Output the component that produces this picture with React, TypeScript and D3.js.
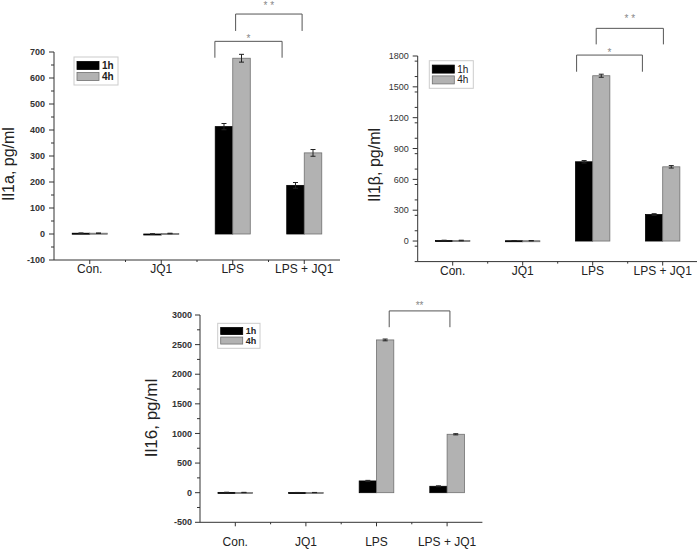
import React from 'react';
import * as d3 from 'd3';

const categories = ['Con.', 'JQ1', 'LPS', 'LPS + JQ1'];
const seriesNames = ['1h', '4h'];

const il1aH1 = [3, 0, 413, 187];
const il1aH4 = [3, 2, 676, 312];
const il1aErrH1 = [1, 1, 12, 11];
const il1aErrH4 = [1, 1, 15, 13];
const il1aTicks = [-100, 0, 100, 200, 300, 400, 500, 600, 700];

const il1bH1 = [5, 3, 771, 258];
const il1bH4 = [5, 3, 1608, 722];
const il1bErrH1 = [3, 2, 12, 8];
const il1bErrH4 = [3, 2, 15, 12];
const il1bTicks = [0, 300, 600, 900, 1200, 1500, 1800];

const il16H1 = [5, 2, 198, 108];
const il16H4 = [3, 2, 2579, 986];
const il16ErrH1 = [3, 2, 10, 8];
const il16ErrH4 = [3, 2, 15, 10];
const il16Ticks = [-500, 0, 500, 1000, 1500, 2000, 2500, 3000];

// brackets: [fromCategory, offset, toCategory, offset, lineValue, legValue, starValue, label]
const il1aBrackets: [number, number, number, number, number, number, number, string][] = [
  [2, -0.25, 3, -0.31, 741, 678, 759, '*'],
  [2, 0.04, 3, -0.03, 846, 781, 887, '* *'],
];
const il1bBrackets: [number, number, number, number, number, number, number, string][] = [
  [2, -0.23, 3, -0.29, 1809, 1647, 1858, '*'],
  [2, 0.05, 3, 0.01, 2069, 1913, 2182, '* *'],
];
const il16Brackets: [number, number, number, number, number, number, number, string][] = [
  [2, 0.18, 3, 0.04, 3069, 2794, 3198, '**'],
];

const FONT = '"Liberation Sans", Arial, sans-serif';

type PanelProps = {
  left: number; right: number; top: number; bottom: number;
  domain: [number, number]; ticks: number[]; minorStep: number;
  h1: number[]; h4: number[]; e1: number[]; e4: number[];
  brackets: [number, number, number, number, number, number, number, string][];
  yLabel: string; yLabelX: number; yLabelY: number; yLabelSize: number;
  tickBold: boolean; tickGap: number; xLabelY: number;
  legend: { x: number; y: number; w: number; h: number; sw: number; sh: number; bold: boolean; fs: number };
};

function Panel(p: PanelProps) {
  const x = d3.scaleBand<string>().domain(categories).range([p.left, p.right]).padding(0);
  const y = d3.scaleLinear().domain(p.domain).range([p.bottom, p.top]);
  const bw = x.bandwidth();
  const barW = bw * 0.245;
  const minor = d3.range(p.domain[0], p.domain[1] + 0.001, p.minorStep).filter(v => !p.ticks.includes(v));
  const series = [
    { vals: p.h1, errs: p.e1, fill: '#000', stroke: '#000' },
    { vals: p.h4, errs: p.e4, fill: '#b2b2b2', stroke: '#707070' },
  ];
  const cx = (i: number) => (x(categories[i]) as number) + bw / 2;
  return (
    <g fontFamily={FONT}>
      {series.map((s, si) => (
        <g key={si}>
          {s.vals.map((v, i) => {
            const x0 = cx(i) + (si === 0 ? -barW : 0);
            const y0 = y(Math.max(v, 0));
            const y1 = y(Math.min(v, 0));
            const ex = x0 + barW / 2;
            const et = y(v + s.errs[i]);
            const eb = y(v - s.errs[i]);
            return (
              <g key={i}>
                <rect x={x0} y={y0} width={barW} height={Math.max(y1 - y0, 1)} fill={s.fill} stroke={s.stroke} strokeWidth={0.8} />
                <line x1={ex} x2={ex} y1={et} y2={eb} stroke="#222" strokeWidth={1} />
                <line x1={ex - 2.5} x2={ex + 2.5} y1={et} y2={et} stroke="#222" strokeWidth={1} />
                <line x1={ex - 2.5} x2={ex + 2.5} y1={eb} y2={eb} stroke="#222" strokeWidth={1} />
              </g>
            );
          })}
        </g>
      ))}
      {/* axes */}
      <line x1={p.left} x2={p.left} y1={p.top} y2={p.bottom} stroke="#333" strokeWidth={1} />
      <line x1={p.left} x2={p.right} y1={p.bottom} y2={p.bottom} stroke="#333" strokeWidth={1} />
      {p.ticks.map(t => (
        <g key={t}>
          <line x1={p.left - 5} x2={p.left} y1={y(t)} y2={y(t)} stroke="#333" strokeWidth={1} />
          <text x={p.left - p.tickGap} y={y(t)} dy="0.35em" textAnchor="end" fontSize={9} fontWeight={p.tickBold ? 'bold' : 'normal'} fill="#333">{t}</text>
        </g>
      ))}
      {minor.map(t => (
        <line key={'m' + t} x1={p.left - 3} x2={p.left} y1={y(t)} y2={y(t)} stroke="#333" strokeWidth={1} />
      ))}
      {categories.map((c, i) => (
        <g key={c}>
          <line x1={cx(i)} x2={cx(i)} y1={p.bottom} y2={p.bottom + 4} stroke="#333" strokeWidth={1} />
          {i > 0 && <line x1={x(c) as number} x2={x(c) as number} y1={p.bottom} y2={p.bottom + 2} stroke="#333" strokeWidth={1} />}
          <text x={cx(i)} y={p.xLabelY} textAnchor="middle" fontSize={12} fill="#222">{c}</text>
        </g>
      ))}
      <text transform={`translate(${p.yLabelX},${p.yLabelY}) rotate(-90)`} textAnchor="middle" fontSize={p.yLabelSize} fill="#222">{p.yLabel}</text>
      {/* significance brackets */}
      {p.brackets.map((b, k) => {
        const xa = cx(b[0]) + b[1] * bw;
        const xb = cx(b[2]) + b[3] * bw;
        const yl = y(b[4]);
        const yg = y(b[5]);
        return (
          <g key={k}>
            <path d={`M${xa},${yg}V${yl}H${xb}V${yg}`} fill="none" stroke="#555" strokeWidth={1} />
            <text x={(xa + xb) / 2} y={y(b[6]) + 5.7} textAnchor="middle" fontSize={10} fill="#888">{b[7]}</text>
          </g>
        );
      })}
      {/* legend */}
      <rect x={p.legend.x} y={p.legend.y} width={p.legend.w} height={p.legend.h} fill="#fff" stroke="#ccc" strokeWidth={1} />
      {seriesNames.map((n, i) => {
        const rowH = (p.legend.h - 6) / 2;
        const ly = p.legend.y + 3 + i * rowH;
        return (
          <g key={n}>
            <rect x={p.legend.x + 3} y={ly + (rowH - p.legend.sh) / 2} width={p.legend.sw} height={p.legend.sh} fill={series[i].fill} stroke={series[i].stroke} strokeWidth={0.8} />
            <text x={p.legend.x + p.legend.sw + 6} y={ly + rowH / 2} dy="0.35em" fontSize={p.legend.fs} fontWeight={p.legend.bold ? 'bold' : 'normal'} fill="#222">{n}</text>
          </g>
        );
      })}
    </g>
  );
}

export default function App() {
  return (
    <svg width={697} height={549} style={{ position: 'absolute', left: 0, top: 0, background: '#fff' }}>
      <rect width={697} height={549} fill="#fff" />
      <Panel left={54} right={340} top={52} bottom={260} domain={[-100, 700]} ticks={il1aTicks} minorStep={50}
        h1={il1aH1} h4={il1aH4} e1={il1aErrH1} e4={il1aErrH4} brackets={il1aBrackets}
        yLabel="Il1a, pg/ml" yLabelX={14} yLabelY={164} yLabelSize={16} tickBold={true} tickGap={9} xLabelY={273}
        legend={{ x: 74, y: 57, w: 44, h: 28, sw: 22, sh: 8, bold: true, fs: 10 }} />
      <Panel left={417.7} right={697.7} top={56} bottom={261.6} domain={[-200, 1800]} ticks={il1bTicks} minorStep={150}
        h1={il1bH1} h4={il1bH4} e1={il1bErrH1} e4={il1bErrH4} brackets={il1bBrackets}
        yLabel="Il1β, pg/ml" yLabelX={380} yLabelY={165} yLabelSize={16} tickBold={false} tickGap={9} xLabelY={275}
        legend={{ x: 429.3, y: 60.7, w: 44, h: 27.6, sw: 22, sh: 8, bold: false, fs: 10 }} />
      <Panel left={200} right={482.4} top={315} bottom={522.3} domain={[-500, 3000]} ticks={il16Ticks} minorStep={250}
        h1={il16H1} h4={il16H4} e1={il16ErrH1} e4={il16ErrH4} brackets={il16Brackets}
        yLabel="Il16, pg/ml" yLabelX={157} yLabelY={418} yLabelSize={17} tickBold={true} tickGap={8} xLabelY={546}
        legend={{ x: 217.7, y: 323.3, w: 42.3, h: 25, sw: 22, sh: 7, bold: true, fs: 9 }} />
    </svg>
  );
}
